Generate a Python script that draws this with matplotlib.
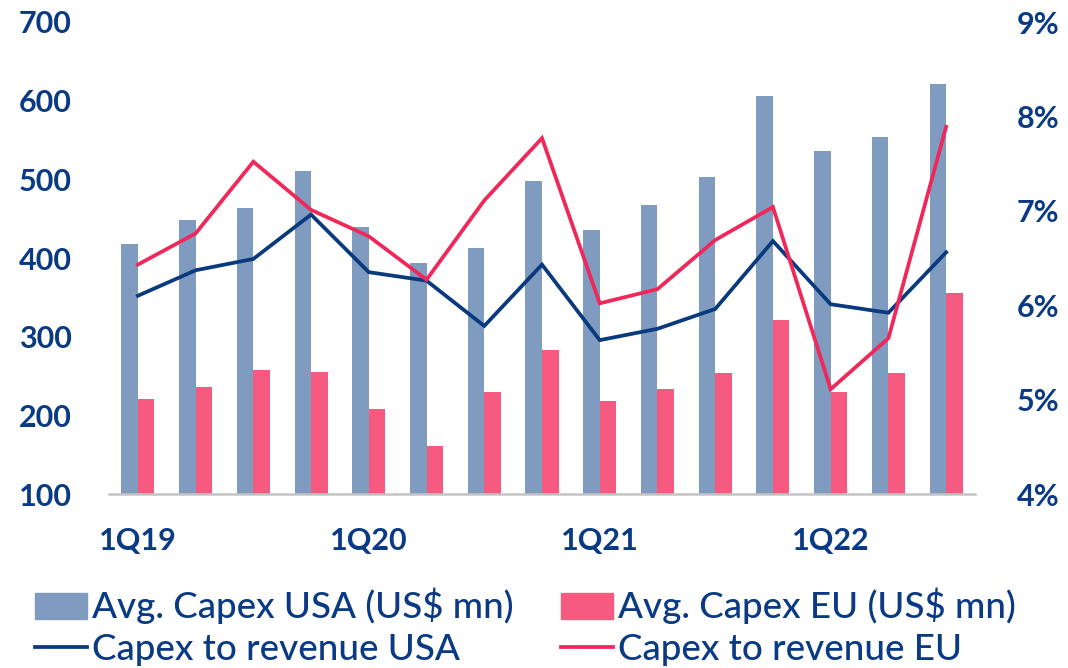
import matplotlib
matplotlib.use("Agg")
import matplotlib.pyplot as plt
import numpy as np
from matplotlib.patches import Patch
from matplotlib.lines import Line2D

quarters = ["1Q19", "2Q19", "3Q19", "4Q19", "1Q20", "2Q20", "3Q20", "4Q20",
            "1Q21", "2Q21", "3Q21", "4Q21", "1Q22", "2Q22", "3Q22"]
capex_usa = [418, 448, 464, 511, 440, 394, 413, 498, 435, 468, 503, 606, 536, 554, 621]
capex_eu = [221, 236, 258, 255, 208, 161, 230, 283, 218, 234, 254, 321, 230, 254, 355]
ratio_usa = [6.10, 6.37, 6.49, 6.96, 6.35, 6.26, 5.78, 6.43, 5.63, 5.75, 5.96, 6.68, 6.01, 5.92, 6.56]
ratio_eu = [6.43, 6.76, 7.52, 7.01, 6.73, 6.27, 7.11, 7.77, 6.02, 6.17, 6.69, 7.04, 5.11, 5.65, 7.89]
left_ticks = [100, 200, 300, 400, 500, 600, 700]
right_ticks = [4, 5, 6, 7, 8, 9]
xtick_labels = ["1Q19", "1Q20", "1Q21", "1Q22"]

NAVY = "#0a3a84"
C_USA_BAR = "#7f9bc0"
C_EU_BAR = "#f65a80"
C_USA_LINE = "#0a3a7e"
C_EU_LINE = "#f0285a"

plt.rcParams['font.family'] = ['Lato', 'DejaVu Sans']

fig = plt.figure(figsize=(10.68, 6.68), dpi=100)
ax = fig.add_axes([109/1068, 1-494/668, (975-109)/1068, (494-22)/668])
ax2 = ax.twinx()

x = np.arange(len(quarters))
w = 0.286
ax.bar(x - w/2, capex_usa, width=w, color=C_USA_BAR, zorder=2)
ax.bar(x + w/2, capex_eu, width=w, color=C_EU_BAR, zorder=2)
ax.set_ylim(100, 700)
ax.set_xlim(-0.5, len(quarters) - 0.5)
ax.set_yticks(left_ticks)
ax.set_yticklabels([str(v) for v in left_ticks])
ax.set_xticks([quarters.index(q) for q in xtick_labels])
ax.set_xticklabels(xtick_labels)

LW = 2.7
ax2.plot(x, ratio_usa, color=C_USA_LINE, lw=LW, solid_joinstyle='miter')
ax2.plot(x, ratio_eu, color=C_EU_LINE, lw=LW, solid_joinstyle='miter')
ax2.set_ylim(4, 9)
ax2.set_yticks(right_ticks)
ax2.set_yticklabels([f"{v}%" for v in right_ticks])

for a in (ax, ax2):
    for s in ("top", "left", "right", "bottom"):
        a.spines[s].set_visible(False)
ax.spines["bottom"].set_visible(True)
ax.spines["bottom"].set_color("#c4c4c4")
ax.spines["bottom"].set_linewidth(1.8)

ax.tick_params(axis='y', length=0, pad=27, labelsize=22, labelcolor=NAVY)
ax.tick_params(axis='x', length=0, pad=24, labelsize=22, labelcolor=NAVY)
ax2.tick_params(axis='y', length=0, pad=30, labelsize=22, labelcolor=NAVY)
for lbl in ax.get_yticklabels() + ax.get_xticklabels() + ax2.get_yticklabels():
    lbl.set_fontweight('bold')

handles = [Patch(color=C_USA_BAR), Line2D([], [], color=C_USA_LINE, lw=LW),
           Patch(color=C_EU_BAR), Line2D([], [], color=C_EU_LINE, lw=LW)]
labels = ["Avg. Capex USA (US$ mn)", "Capex to revenue USA",
          "Avg. Capex EU (US$ mn)", "Capex to revenue EU"]
leg = fig.legend(handles, labels, ncol=2, loc='upper left',
                 bbox_to_anchor=(35/1068, 1-588/668), frameon=False,
                 fontsize=26.5, handlelength=1.4, handleheight=0.7,
                 handletextpad=0.14, columnspacing=1.3, labelspacing=0.22,
                 borderpad=0, borderaxespad=0)
for t in leg.get_texts():
    t.set_color(NAVY)
    t.set_fontweight('medium')

fig.savefig("out.png", dpi=100)
